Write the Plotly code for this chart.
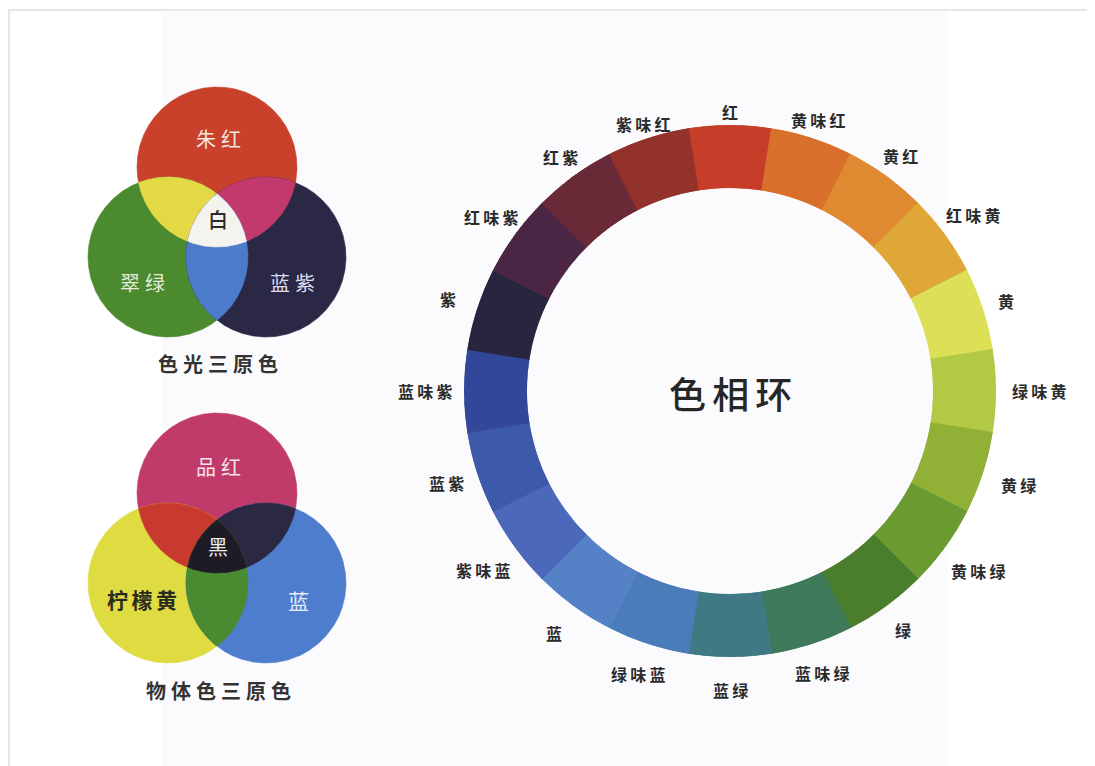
import numpy as np
import plotly.graph_objects as go

# ---------------- data ----------------
hue_names = ["红", "黄味红", "黄红", "红味黄", "黄", "绿味黄", "黄绿", "黄味绿", "绿", "蓝味绿",
             "蓝绿", "绿味蓝", "蓝", "紫味蓝", "蓝紫", "蓝味紫", "紫", "红味紫", "红紫", "紫味红"]
hue_colors = ["#c63d29", "#d8702b", "#df8a31", "#dfa737", "#dde056", "#b2c945", "#91b036",
              "#6b9a30", "#4b7e2c", "#3e7a5a", "#3f7984", "#4b7cba", "#5581c6", "#4b68ba",
              "#3d59a9", "#33479a", "#28253f", "#4a2644", "#692937", "#93322a"]
hue_share = [1] * len(hue_names)

light_names = ["朱红", "翠绿", "蓝紫"]
light_colors = ["#c9402b", "#4b8a2f", "#2a2845"]
light_mix_colors = {"01": "#e2d944", "02": "#c2396c", "12": "#4c7bc9", "012": "#f4f3ee"}
light_center = "白"
light_title = "色光三原色"

pigment_names = ["品红", "柠檬黄", "蓝"]
pigment_colors = ["#c13b6a", "#dfdc42", "#4d7dcc"]
pigment_mix_colors = {"01": "#c8392f", "02": "#2b2842", "12": "#4a8a31", "012": "#1d1c26"}
pigment_center = "黑"
pigment_title = "物体色三原色"

wheel_title = "色相环"

# ---------------- layout constants (pixels) ----------------
W, H = 1095, 766
OFF = 8  # page body margin of the html page
WCX, WCY, R_OUT, R_IN = 730, 391, 266, 203
VR = 80
FONT = "Noto Sans CJK SC"
# distance of each hue label from the wheel centre (layout tuning)
label_radius = [279, 285, 290, 300, 290, 309, 303, 306, 295, 297,
                299, 298, 299, 305, 298, 305, 297, 296, 289, 281]

fig = go.Figure()

# ---- colour wheel via barpolar ----
n = len(hue_names)
step = 360 / n
thetas = [i * step for i in range(n)]
fig.add_trace(go.Barpolar(
    r=hue_share, theta=thetas, width=[step] * n,
    marker=dict(color=hue_colors, line=dict(color=hue_colors, width=1)),
    hoverinfo="skip", showlegend=False,
))

# ---- venn helpers ----
def region(centers, npts=1441):
    pts = []
    for i, (cx, cy) in enumerate(centers):
        t = np.linspace(0, 2 * np.pi, npts)
        px = cx + VR * np.cos(t)
        py = cy + VR * np.sin(t)
        mask = np.ones_like(px, dtype=bool)
        for j, (ox, oy) in enumerate(centers):
            if j == i:
                continue
            mask &= (px - ox) ** 2 + (py - oy) ** 2 <= VR ** 2 + 1e-6
        pts.append(np.c_[px[mask], py[mask]])
    P = np.vstack(pts)
    c = P.mean(0)
    ang = np.arctan2(P[:, 1] - c[1], P[:, 0] - c[0])
    P = P[np.argsort(ang)]
    return P[:, 0], P[:, 1]


def add_poly(x, y, color):
    fig.add_trace(go.Scatter(
        x=np.r_[x, x[:1]], y=np.r_[y, y[:1]], mode="lines", fill="toself",
        fillcolor=color, line=dict(width=0.6, color=color),
        hoverinfo="skip", showlegend=False, xaxis="x", yaxis="y"))


def venn(centers, base_colors, mix_colors):
    for c, col in zip(centers, base_colors):
        add_poly(*region([c]), col)
    for key in ["01", "02", "12"]:
        idx = [int(k) for k in key]
        add_poly(*region([centers[k] for k in idx]), mix_colors[key])
    add_poly(*region(centers), mix_colors["012"])


top_centers = [(217, 167), (168, 257), (266, 257)]
bot_centers = [(217, 493), (168, 583), (266, 583)]
venn(top_centers, light_colors, light_mix_colors)
venn(bot_centers, pigment_colors, pigment_mix_colors)

annotations = []


def txt(x, y, s, size, color, spacing=" ", weight="normal"):
    annotations.append(dict(x=x, y=y, xref="x", yref="y", text=spacing.join(s),
                            showarrow=False,
                            font=dict(family=FONT, size=size, color=color, weight=weight),
                            xanchor="center", yanchor="middle"))


# venn labels
txt(218, 138, light_names[0], 20, "#f3e6e0", "\u2005")
txt(142, 282, light_names[1], 20, "#e4eedc", "\u2005")
txt(292, 282, light_names[2], 20, "#dcdcf0", "\u2005")
txt(218, 219, light_center, 20, "#2a2a2a", weight=500)
txt(218, 363, light_title, 20, "#333333", "\u2005", weight="bold")

txt(218, 466, pigment_names[0], 20, "#f4e4ec", "\u2005")
txt(142, 599, pigment_names[1], 21, "#2a2a1e", "\u2006", weight="bold")
txt(298, 600, pigment_names[2], 21, "#e6ecfa")
txt(218, 546, pigment_center, 20, "#ececec")
txt(218, 690, pigment_title, 20, "#333333", "\u2005", weight="bold")

# wheel title
txt(WCX, 393, wheel_title, 37, "#262626", "\u2006", weight=500)

# wheel labels
for name, th, r in zip(hue_names, thetas, label_radius):
    a = np.deg2rad(th)
    x = WCX + r * np.sin(a)
    y = WCY - r * np.cos(a)
    txt(x, y, name, 16, "#2b2b2b", "\u2009", weight="bold")

shapes = [
    dict(type="rect", xref="x", yref="y", x0=162, x1=948, y0=12, y1=780,
         fillcolor="#fbfbfd", line=dict(width=0), layer="below"),
    dict(type="rect", xref="x", yref="y", x0=9, x1=1110, y0=10, y1=790,
         fillcolor="rgba(0,0,0,0)", line=dict(color="#dedede", width=1.5), layer="below"),
]

fig.update_layout(
    width=W, height=H, margin=dict(l=0, r=0, t=0, b=0),
    paper_bgcolor="#ffffff", plot_bgcolor="rgba(0,0,0,0)",
    xaxis=dict(range=[OFF, OFF + W], visible=False, fixedrange=True),
    yaxis=dict(range=[OFF + H, OFF], visible=False, fixedrange=True),
    polar=dict(
        domain=dict(x=[(WCX - OFF - R_OUT) / W, (WCX - OFF + R_OUT) / W],
                    y=[(H - (WCY - OFF) - R_OUT) / H, (H - (WCY - OFF) + R_OUT) / H]),
        hole=R_IN / R_OUT,
        bgcolor="rgba(0,0,0,0)",
        radialaxis=dict(range=[0, 1], visible=False, showgrid=False),
        angularaxis=dict(rotation=90, direction="clockwise",
                         visible=False, showgrid=False, showticklabels=False, ticks=""),
    ),
    shapes=shapes,
    annotations=annotations,
    showlegend=False,
)

fig.write_html("out.html")
